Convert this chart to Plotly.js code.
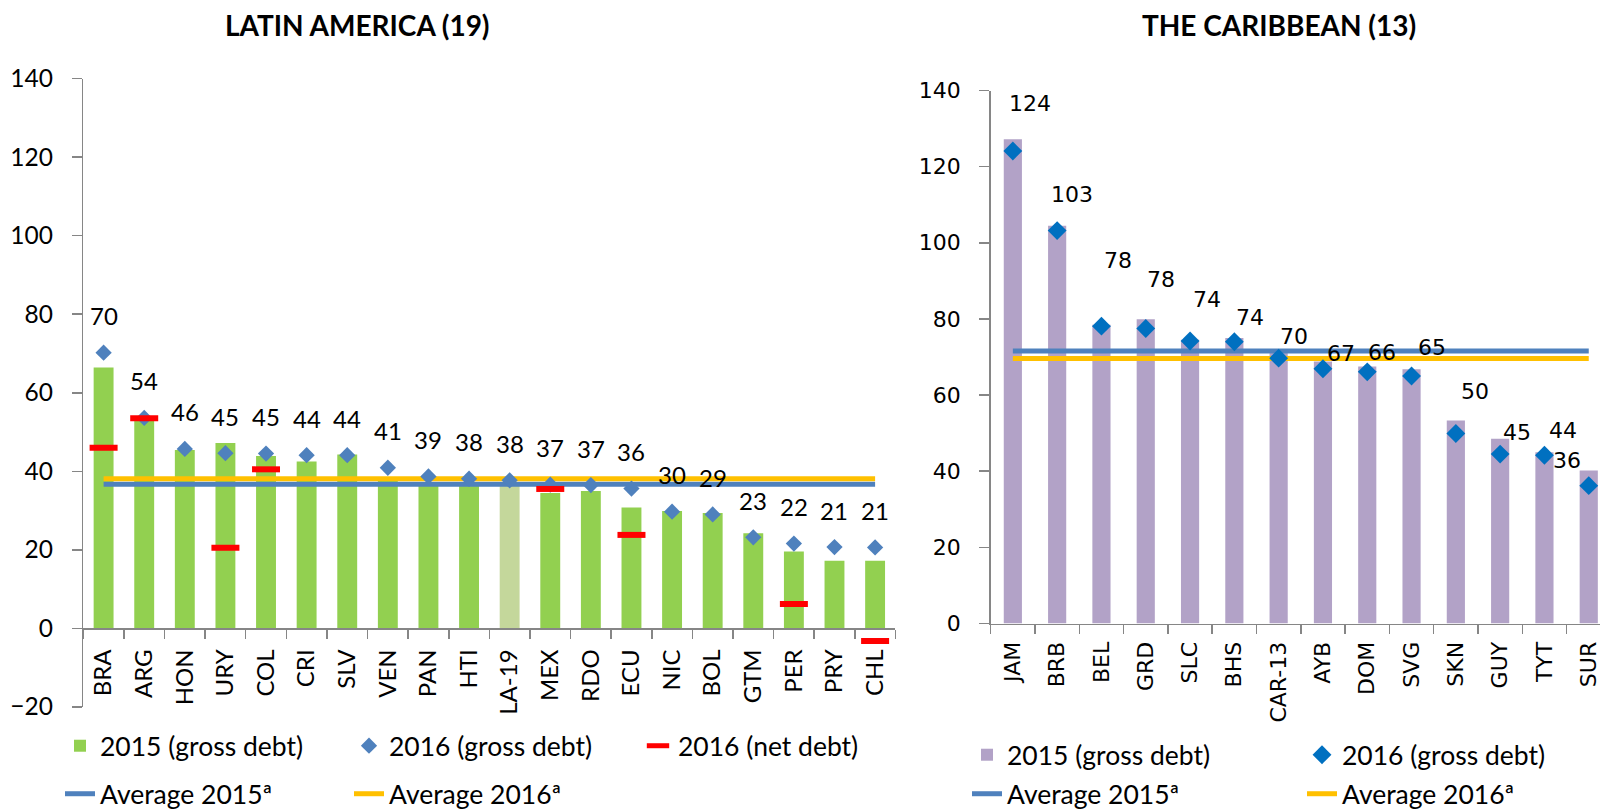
<!DOCTYPE html>
<html>
<head>
<meta charset="utf-8">
<script src="https://cdn.plot.ly/plotly-3.0.1.min.js"></script>
<style>html,body{margin:0;padding:0;background:#fff;}#chart{width:1600px;height:809px;}</style>
</head>
<body>
<div id="chart"></div>
<script>
// ---------------- DATA ----------------
const laCats = ['BRA','ARG','HON','URY','COL','CRI','SLV','VEN','PAN','HTI','LA-19','MEX','RDO','ECU','NIC','BOL','GTM','PER','PRY','CHL'];
const laGross2015 = [66.4, 53.0, 45.4, 47.2, 43.9, 42.5, 44.3, 37.5, 37.3, 36.8, 36.7, 34.5, 35.0, 30.8, 29.9, 29.4, 24.2, 19.6, 17.2, 17.2];
const laGross2016 = [70.2, 53.6, 45.7, 44.6, 44.5, 44.1, 44.1, 40.9, 38.7, 38.1, 37.7, 36.6, 36.5, 35.6, 29.7, 29.0, 23.2, 21.6, 20.7, 20.6];
const laNet2016   = [46.0, 53.5, null, 20.5, 40.5, null, null, null, null, null, null, 35.5, null, 23.8, null, null, null, 6.2, null, -3.2];
const laAvg2015 = 36.7;
const laAvg2016 = 38.1;
const laAggregate = 'LA-19';

const carCats = ['JAM','BRB','BEL','GRD','SLC','BHS','CAR-13','AYB','DOM','SVG','SKN','GUY','TYT','SUR'];
const carGross2015 = [127.2, 104.5, 78.5, 79.9, 74.5, 75.0, 71.5, 68.8, 67.5, 66.8, 53.3, 48.5, 45.0, 40.2];
const carGross2016 = [124.1, 103.2, 78.1, 77.5, 74.2, 74.0, 69.7, 66.9, 66.1, 65.0, 49.9, 44.5, 44.2, 36.2];
const carAvg2015 = 71.6;
const carAvg2016 = 69.6;

const yTicksLA = [-20, 0, 20, 40, 60, 80, 100, 120, 140];
const yTicksCAR = [0, 20, 40, 60, 80, 100, 120, 140];

// label placement nudges (pixels) for the Caribbean data labels, as in the original
const carLabelNudgeX = [17, 15, 17, 15, 17, 16, 15, 18, 15, 20, 19, 17, 19, -22];
const carLabelNudgeY = [48, 36, 66, 49, 42, 24, 22, 15, 19, 29, 42, 22, 25, 25];

// ---------------- STYLE ----------------
const FL = 'Lato, "Open Sans", sans-serif';
const FD = '"DejaVu Sans", Verdana, sans-serif';
const AX = '#868686';
const W = 1600, H = 809;
const px = v => v / W;
const py = v => 1 - v / H;

const traces = [
  // Latin America
  {type:'bar', x: laCats, y: laGross2015, xaxis:'x', yaxis:'y', width: 0.49,
   marker:{color: laCats.map(c => c === laAggregate ? '#c4d79b' : '#92d050'), line:{width:0}},
   name:'2015 (gross debt)', legend:'legend'},
  {type:'scatter', mode:'lines', x:[laCats[0], laCats[laCats.length-1]], y:[laAvg2015, laAvg2015],
   xaxis:'x', yaxis:'y', line:{color:'#4f81bd', width:5}, name:'Average 2015ª', legend:'legend2'},
  {type:'scatter', mode:'lines', x:[laCats[0], laCats[laCats.length-1]], y:[laAvg2016, laAvg2016],
   xaxis:'x', yaxis:'y', line:{color:'#ffc000', width:5}, name:'Average 2016ª', legend:'legend2'},
  {type:'scatter', mode:'markers', x: laCats, y: laGross2016, xaxis:'x', yaxis:'y',
   marker:{symbol:'diamond', size:12.5, color:'#4f81bd', line:{width:0}}, name:'2016 (gross debt)', legend:'legend'},
  {type:'scatter', mode:'markers', x: laCats, y: laNet2016, xaxis:'x', yaxis:'y',
   marker:{symbol:'line-ew', size:20, color:'#ff0000', line:{color:'#ff0000', width:6}}, name:'2016 (net debt)', legend:'legend'},
  // Caribbean
  {type:'bar', x: carCats, y: carGross2015, xaxis:'x2', yaxis:'y2', width: 0.41,
   marker:{color:'#b2a2c7', line:{width:0}}, name:'2015 (gross debt)', legend:'legend3'},
  {type:'scatter', mode:'lines', x:[carCats[0], carCats[carCats.length-1]], y:[carAvg2015, carAvg2015],
   xaxis:'x2', yaxis:'y2', line:{color:'#4f81bd', width:5}, name:'Average 2015ª', legend:'legend4'},
  {type:'scatter', mode:'lines', x:[carCats[0], carCats[carCats.length-1]], y:[carAvg2016, carAvg2016],
   xaxis:'x2', yaxis:'y2', line:{color:'#ffc000', width:5}, name:'Average 2016ª', legend:'legend4'},
  {type:'scatter', mode:'markers', x: carCats, y: carGross2016, xaxis:'x2', yaxis:'y2',
   marker:{symbol:'diamond', size:14.5, color:'#0070c0', line:{width:0}}, name:'2016 (gross debt)', legend:'legend3'}
];

const annotations = [];
laCats.forEach((c, i) => {
  annotations.push({xref:'x', yref:'y', x:c, y:laGross2016[i], text:String(Math.round(laGross2016[i])),
    showarrow:false, yshift:37, font:{family:FL, size:24, color:'#000'}});
});
carCats.forEach((c, i) => {
  annotations.push({xref:'x2', yref:'y2', x:c, y:carGross2016[i], text:String(Math.round(carGross2016[i])),
    showarrow:false, xshift:carLabelNudgeX[i], yshift:carLabelNudgeY[i], font:{family:FD, size:22, color:'#000'}});
});
annotations.push({xref:'paper', yref:'paper', x:px(357), y:py(25), xanchor:'center', yanchor:'middle',
  text:'<b>LATIN AMERICA (19)</b>', showarrow:false, font:{family:FL, size:28, color:'#000'}});
annotations.push({xref:'paper', yref:'paper', x:px(1279), y:py(25), xanchor:'center', yanchor:'middle',
  text:'<b>THE CARIBBEAN (13)</b>', showarrow:false, font:{family:FL, size:28, color:'#000'}});

const legFont = {family:FL, size:26.5, color:'#000'};
const layout = {
  width: W, height: H,
  margin:{l:0, r:0, t:0, b:0, autoexpand:false},
  paper_bgcolor:'#fff', plot_bgcolor:'rgba(0,0,0,0)',
  showlegend:true,
  barmode:'overlay',
  xaxis:{domain:[px(83.3), px(895.4)], anchor:'free', position: py(628.3), type:'category',
    range:[-0.5, laCats.length - 0.5], showline:true, linecolor:AX, linewidth:1.5,
    ticks:'outside', tickson:'boundaries', ticklen:9, tickcolor:AX, tickwidth:1.5,
    tickangle:-90, tickfont:{family:FL, size:24, color:'#000'}, ticklabelstandoff:10,
    showgrid:false, zeroline:false, fixedrange:true},
  yaxis:{domain:[py(706.9), py(78.6)], anchor:'x', range:[-20, 140], tickvals:yTicksLA,
    showline:true, linecolor:AX, linewidth:1.5, ticks:'outside', ticklen:10, tickcolor:AX, tickwidth:1.5,
    tickfont:{family:FL, size:24.5, color:'#000'}, ticklabelstandoff:14,
    showgrid:false, zeroline:false, fixedrange:true},
  xaxis2:{domain:[px(990.7), 1], anchor:'y2', type:'category',
    range:[-0.5, -0.5 + (1600 - 990.7) / 44.3], showline:true, linecolor:AX, linewidth:1.5,
    ticks:'outside', tickson:'boundaries', ticklen:9, tickcolor:AX, tickwidth:1.5,
    tickangle:-90, tickfont:{family:FD, size:22, color:'#000'}, ticklabelstandoff:8,
    showgrid:false, zeroline:false, fixedrange:true},
  yaxis2:{domain:[py(623.5), py(90.5)], anchor:'x2', range:[0, 140], tickvals:yTicksCAR,
    showline:true, linecolor:AX, linewidth:1.5, ticks:'outside', ticklen:10, tickcolor:AX, tickwidth:1.5,
    tickfont:{family:FD, size:22, color:'#000'}, ticklabelstandoff:14,
    showgrid:false, zeroline:false, fixedrange:true},
  legend:{orientation:'h', x:px(60), y:py(746), xanchor:'left', yanchor:'middle',
    entrywidth:244, entrywidthmode:'pixels', font:legFont, bgcolor:'rgba(0,0,0,0)', traceorder:'normal'},
  legend2:{orientation:'h', x:px(60), y:py(794), xanchor:'left', yanchor:'middle',
    entrywidth:244, entrywidthmode:'pixels', font:legFont, bgcolor:'rgba(0,0,0,0)', traceorder:'normal'},
  legend3:{orientation:'h', x:px(967), y:py(755), xanchor:'left', yanchor:'middle',
    entrywidth:290, entrywidthmode:'pixels', font:legFont, bgcolor:'rgba(0,0,0,0)', traceorder:'normal'},
  legend4:{orientation:'h', x:px(967), y:py(794), xanchor:'left', yanchor:'middle',
    entrywidth:290, entrywidthmode:'pixels', font:legFont, bgcolor:'rgba(0,0,0,0)', traceorder:'normal'},
  annotations: annotations
};

Plotly.newPlot('chart', traces, layout, {displayModeBar:false, staticPlot:true});
</script>
</body>
</html>
